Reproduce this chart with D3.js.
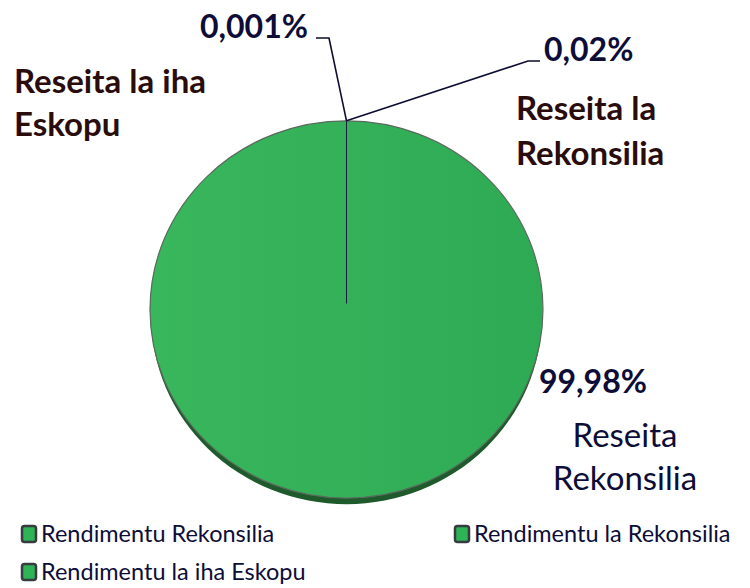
<!DOCTYPE html>
<html>
<head>
<meta charset="utf-8">
<script src="https://cdn.jsdelivr.net/npm/d3@7"></script>
<style>
  body { margin: 0; background: #fff; }
  svg { display: block; }
</style>
</head>
<body>
<script>
'use strict';

var categories = ['Rendimentu Rekonsilia', 'Rendimentu la Rekonsilia', 'Rendimentu la iha Eskopu'];
var values = [99.98, 0.02, 0.001];
var pctLabels = ['99,98%', '0,02%', '0,001%'];
var sliceNames = [['Reseita', 'Rekonsilia'], ['Reseita la', 'Rekonsilia'], ['Reseita la iha', 'Eskopu']];

var width = 750;
var height = 588;
var cx = 346.5, cy = 309.5;
var radius = 196.5;
var squash = 0.96;
var font = 'Lato, "Open Sans", sans-serif';

var svg = d3.select('body').append('svg')
  .attr('width', width)
  .attr('height', height);

var defs = svg.append('defs');
var grad = defs.append('linearGradient')
  .attr('id', 'pieFill')
  .attr('x1', '0').attr('x2', '1').attr('y1', '0').attr('y2', '0');
grad.append('stop').attr('offset', '0').attr('stop-color', '#39b75d');
grad.append('stop').attr('offset', '1').attr('stop-color', '#2eaa54');

var pie = d3.pie().sort(null).value(function(d) { return d; });
var arcs = pie(values);

var arc = d3.arc().innerRadius(0).outerRadius(radius);

// depth under the pie
svg.append('ellipse')
  .attr('cx', cx)
  .attr('cy', cy + 6)
  .attr('rx', radius - 1)
  .attr('ry', radius * squash)
  .attr('fill', '#1e5a2b');

var g = svg.append('g')
  .attr('transform', 'translate(' + cx + ',' + cy + ') scale(1,' + squash + ')');

g.selectAll('path.slice')
  .data(arcs)
  .enter().append('path')
  .attr('class', 'slice')
  .attr('d', arc)
  .attr('fill', 'url(#pieFill)')
  .attr('stroke', 'none');

g.append('circle')
  .attr('r', radius)
  .attr('fill', 'none')
  .attr('stroke', '#5a6a5e')
  .attr('stroke-width', 1.2)
  .attr('vector-effect', 'non-scaling-stroke');

// slice boundary from centre to top
var topY = cy - radius * squash;
svg.append('line')
  .attr('x1', cx).attr('y1', cy - 6)
  .attr('x2', cx).attr('y2', topY)
  .attr('stroke', '#1a1a40')
  .attr('stroke-width', 1);

// leader lines for the tiny slices
var leaders = [
  null,
  [[cx, topY], [528, 61], [540, 61]],
  [[cx, topY], [329, 38], [316, 38]]
];
var line = d3.line();
leaders.forEach(function(pts) {
  if (!pts) return;
  svg.append('path')
    .attr('d', line(pts))
    .attr('fill', 'none')
    .attr('stroke', '#0d0d33')
    .attr('stroke-width', 1.6);
});

// percentage labels
var pctPos = [[539, 393], [544, 61], [200, 38]];
pctLabels.forEach(function(t, i) {
  svg.append('text')
    .attr('x', pctPos[i][0])
    .attr('y', pctPos[i][1])
    .style('font-family', font)
    .style('font-weight', 'bold')
    .style('font-size', '32px')
    .style('fill', '#0d0d38')
    .text(t);
});

// category names beside the slices
var namePos = [
  { x: 625, y: 447, anchor: 'middle', weight: 'normal', color: '#0d0d38', lh: 43 },
  { x: 516, y: 120, anchor: 'start', weight: 'bold', color: '#2a0c0c', lh: 45 },
  { x: 14, y: 93, anchor: 'start', weight: 'bold', color: '#2a0c0c', lh: 43 }
];
sliceNames.forEach(function(lines, i) {
  var p = namePos[i];
  var t = svg.append('text')
    .attr('text-anchor', p.anchor)
    .style('font-family', font)
    .style('font-weight', p.weight)
    .style('font-size', '33px')
    .style('fill', p.color);
  lines.forEach(function(s, j) {
    t.append('tspan').attr('x', p.x).attr('y', p.y + j * p.lh).text(s);
  });
});

// legend
var legendPos = [[22, 542], [455, 542], [22, 580]];
var legend = svg.selectAll('g.legend')
  .data(categories)
  .enter().append('g')
  .attr('class', 'legend')
  .attr('transform', function(d, i) { return 'translate(' + legendPos[i][0] + ',' + legendPos[i][1] + ')'; });

legend.append('rect')
  .attr('x', 0).attr('y', -16)
  .attr('width', 14).attr('height', 16)
  .attr('rx', 2.5)
  .attr('fill', '#2eb356')
  .attr('stroke', '#363b40')
  .attr('stroke-width', 2.5);

legend.append('text')
  .attr('x', 19)
  .attr('y', 0)
  .style('font-family', font)
  .style('font-size', '23.5px')
  .style('fill', '#0d0d38')
  .text(function(d) { return d; });
</script>
</body>
</html>
